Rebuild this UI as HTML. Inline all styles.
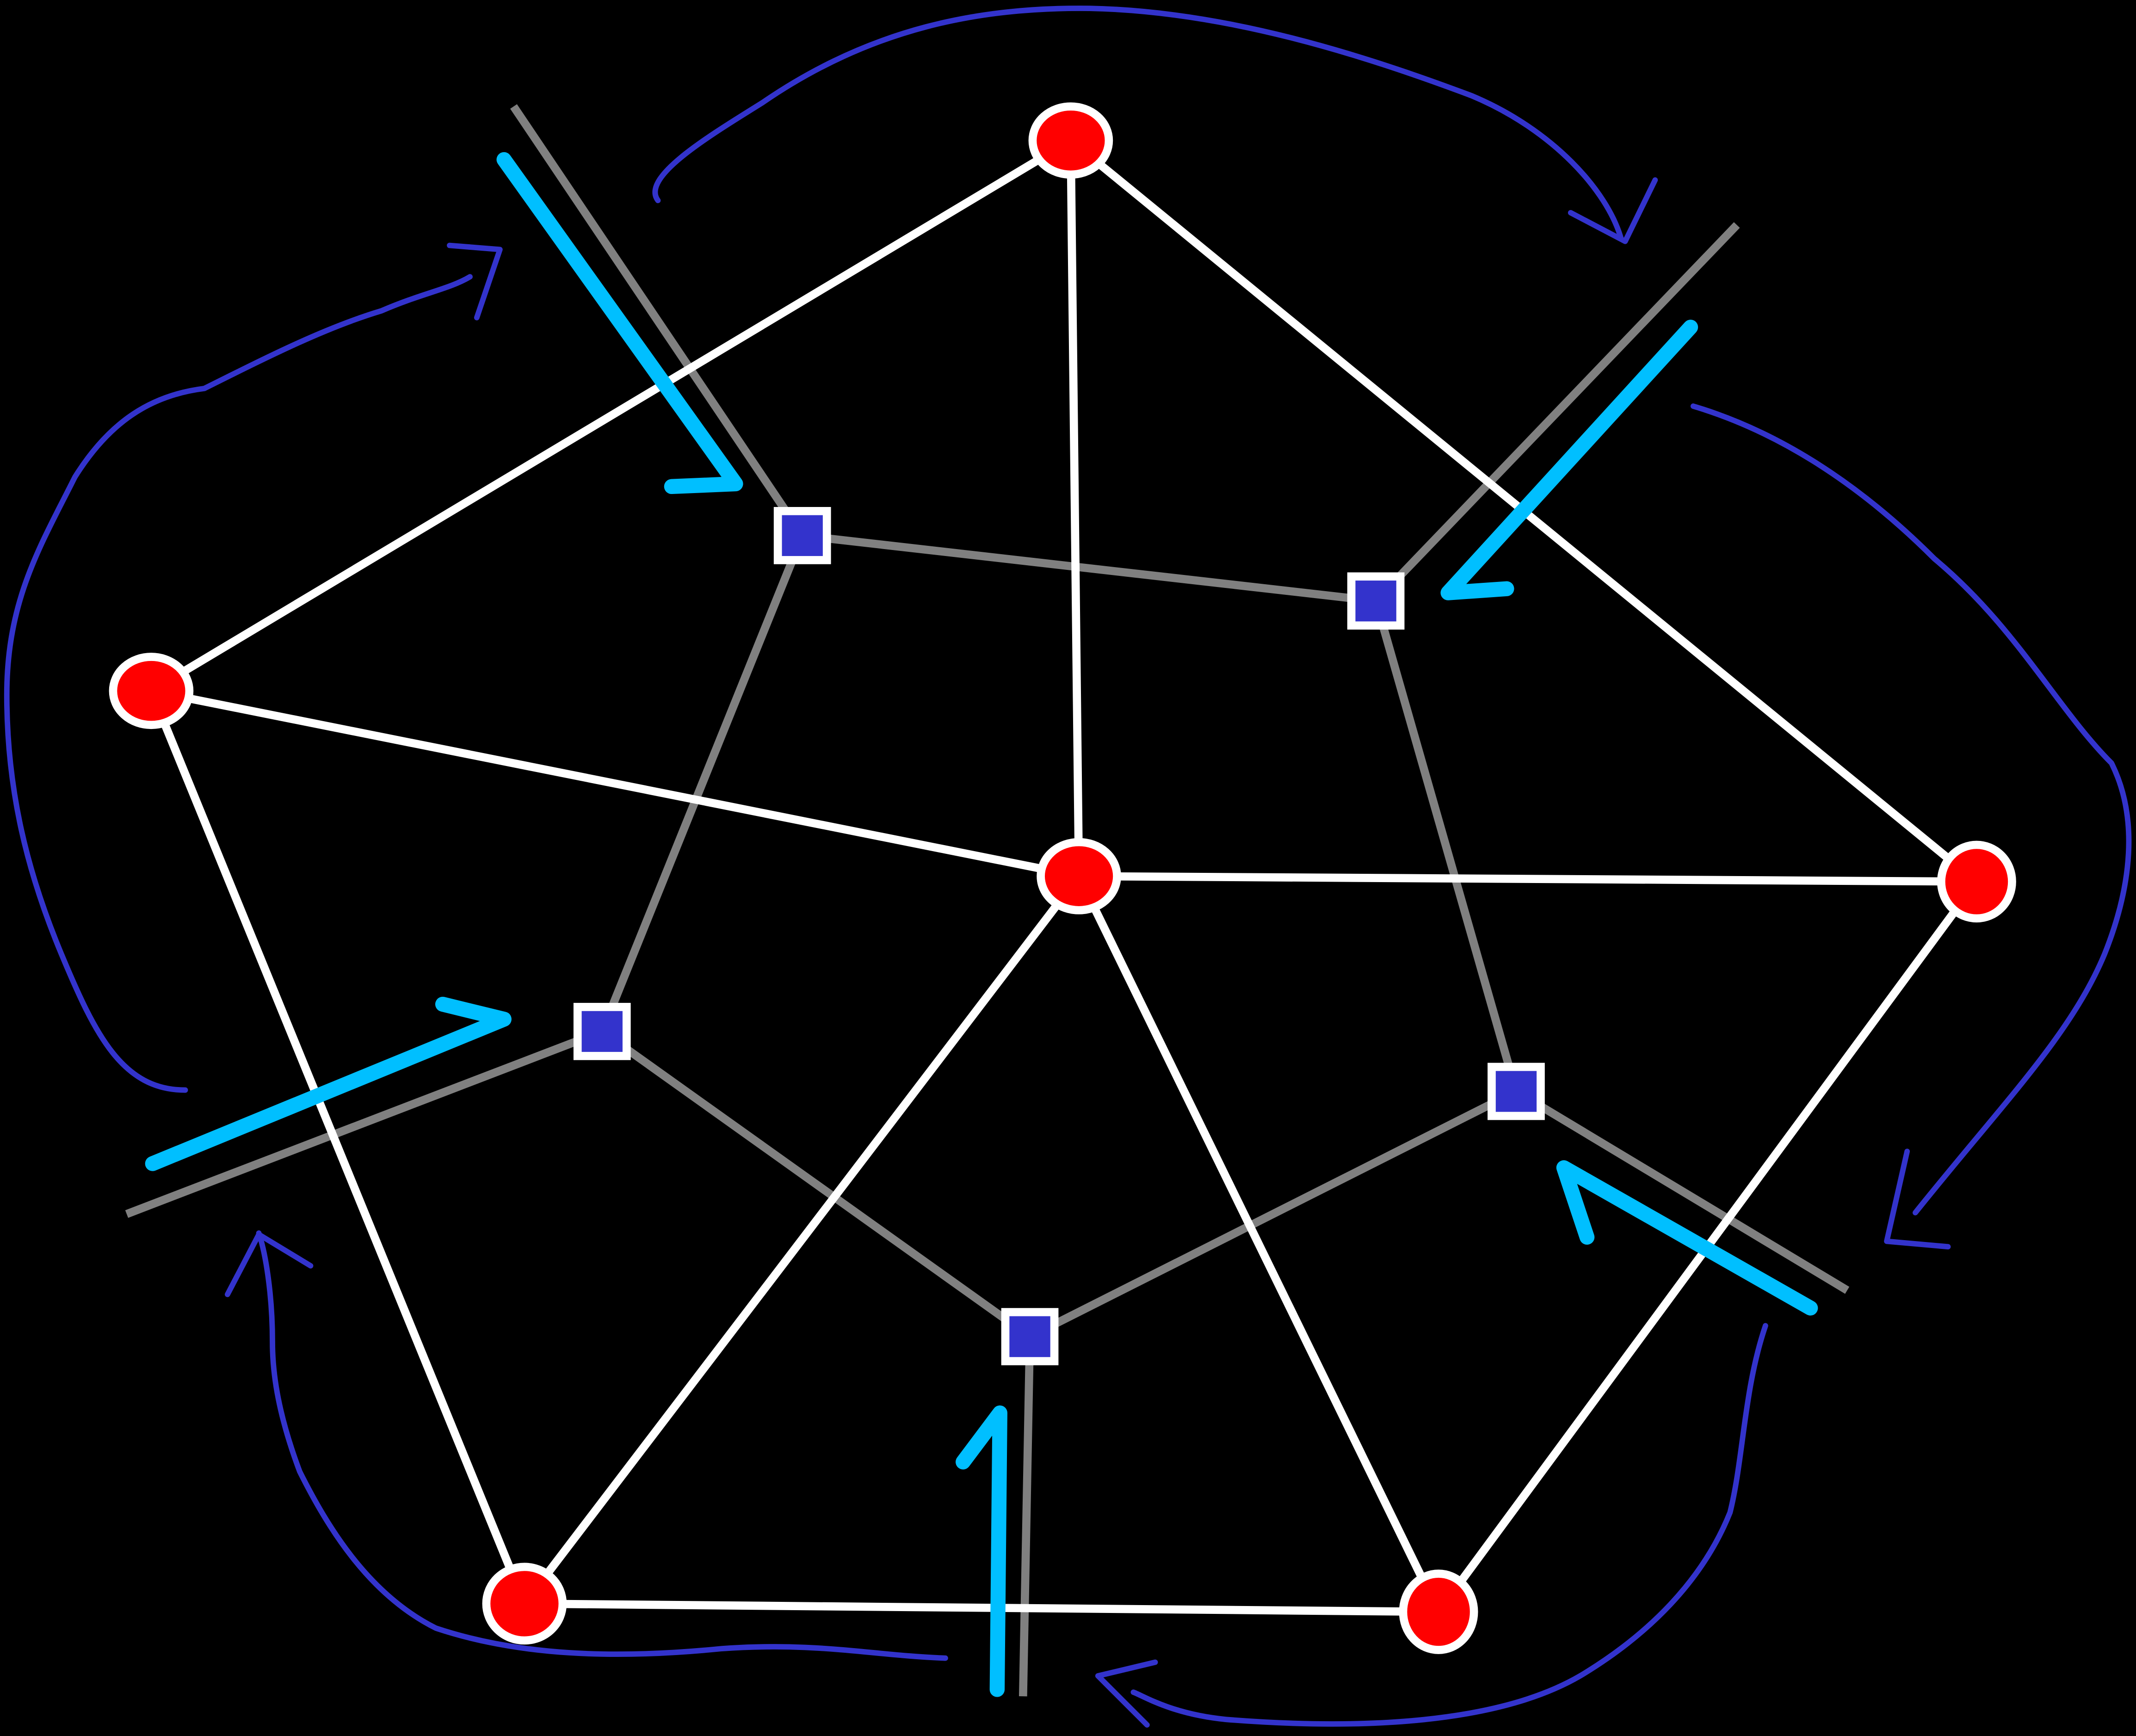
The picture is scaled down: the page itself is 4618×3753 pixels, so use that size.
<!DOCTYPE html>
<html><head><meta charset="utf-8"><style>
html,body{margin:0;padding:0;background:#000;}
svg{display:block;}
</style></head><body>
<svg width="4618" height="3753" viewBox="0 0 1568 1274" xmlns="http://www.w3.org/2000/svg">
<rect x="0" y="0" width="1568" height="1274" fill="#000"/>
<g fill="none" stroke="#3333cc" stroke-width="4" stroke-linecap="round" stroke-linejoin="round">
<path d="M483,147 C470,130 520,100 560,75 C640,20 720,5 800,6 C900,8 1000,40 1080,70 C1140,95 1180,140 1190,175"/>
<path d="M1153,156 L1193,177 L1215,132"/>
<path d="M136,800 C90,800 70,760 45,700 C20,640 5,580 5,510 C5,440 30,400 55,350 C80,310 110,290 150,285 C200,260 240,240 280,228 C310,215 330,212 345,203"/>
<path d="M330,180 L367,183 L350,233"/>
<path d="M1243,298 C1300,315 1360,350 1420,410 C1480,460 1510,520 1550,560 C1570,600 1565,650 1545,700 C1520,760 1470,810 1406,890"/>
<path d="M1400,845 L1385,911 L1430,915"/>
<path d="M1296,973 C1280,1020 1280,1070 1270,1110 C1250,1160 1210,1200 1160,1230 C1100,1265 1000,1270 900,1262 C860,1258 840,1245 832,1242"/>
<path d="M848,1220 L806,1230 L842,1266"/>
<path d="M694,1217 C640,1215 600,1205 530,1210 C450,1218 380,1215 320,1195 C270,1170 240,1120 220,1080 C205,1040 200,1010 200,985 C200,950 195,920 190,905"/>
<path d="M167,950 L190,906 L228,929"/>
</g>
<g stroke="#808080" stroke-width="6">
<line x1="589" y1="393" x2="377" y2="78"/>
<line x1="1010" y1="441" x2="1275" y2="165"/>
<line x1="442" y1="757" x2="93" y2="891"/>
<line x1="1113" y1="801" x2="1356" y2="947"/>
<line x1="756" y1="981" x2="751" y2="1245"/>
<line x1="589" y1="393" x2="1010" y2="441"/>
<line x1="589" y1="393" x2="442" y2="757"/>
<line x1="1010" y1="441" x2="1113" y2="801"/>
<line x1="442" y1="757" x2="756" y2="981"/>
<line x1="1113" y1="801" x2="756" y2="981"/>
</g>
<g stroke="#fff" stroke-width="6">
<line x1="786" y1="103" x2="111" y2="507"/>
<line x1="786" y1="103" x2="792" y2="643"/>
<line x1="786" y1="103" x2="1451" y2="647"/>
<line x1="111" y1="507" x2="792" y2="643"/>
<line x1="111" y1="507" x2="385" y2="1177"/>
<line x1="792" y1="643" x2="1451" y2="647"/>
<line x1="792" y1="643" x2="385" y2="1177"/>
<line x1="792" y1="643" x2="1056" y2="1183"/>
<line x1="1451" y1="647" x2="1056" y2="1183"/>
<line x1="385" y1="1177" x2="1056" y2="1183"/>
</g>
<g fill="none" stroke="#00bfff" stroke-width="11" stroke-linecap="round" stroke-linejoin="round">
<path d="M370,117 L540,355 L493,357"/>
<path d="M1241,240 L1063,435 L1106,432"/>
<path d="M112,854 L370,748 L325,737"/>
<path d="M1329,960 L1148,857 L1165,908"/>
<path d="M732,1240 L734,1037 L707,1073"/>
</g>
<g fill="#ff0000" stroke="#fff" stroke-width="6">
<ellipse cx="786" cy="103" rx="28" ry="25"/>
<ellipse cx="111" cy="507" rx="28" ry="25"/>
<ellipse cx="792" cy="643" rx="28" ry="25"/>
<ellipse cx="1451" cy="647" rx="26" ry="27"/>
<ellipse cx="385" cy="1177" rx="28" ry="27"/>
<ellipse cx="1056" cy="1183" rx="26" ry="28"/>
</g>
<g fill="#3333cc" stroke="#fff" stroke-width="6">
<rect x="571" y="375" width="36" height="36"/>
<rect x="992" y="423" width="36" height="36"/>
<rect x="424" y="739" width="36" height="36"/>
<rect x="1095" y="783" width="36" height="36"/>
<rect x="738" y="963" width="36" height="36"/>
</g>
</svg>
</body></html>
